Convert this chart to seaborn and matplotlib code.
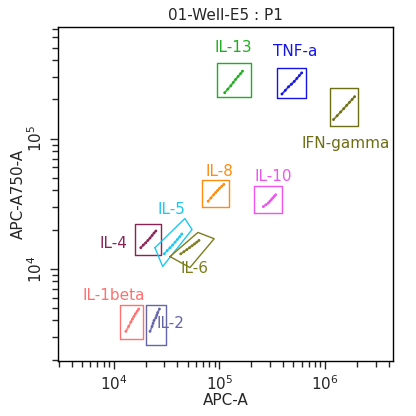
import matplotlib
matplotlib.use("Agg")
import matplotlib.pyplot as plt
import seaborn as sns
import pandas as pd

sns.set_style("white")
plt.rcParams["font.family"] = ["DejaVu Sans"]

# bead populations: name, colour
names = ["IL-13", "TNF-a", "IFN-gamma", "IL-8", "IL-10", "IL-4", "IL-5", "IL-6", "IL-1beta", "IL-2"]
colors = ["#1fae1f", "#1414e6", "#6e6e14", "#ff8c10", "#ee55ee", "#8b2255", "#1ec8f0", "#7d7d1e", "#ff7070", "#6464aa"]

# event values (APC-A, APC-A750-A) per population
pts_x = {
    "IL-13": [1.12e5, 1.2e5, 1.28e5, 1.35e5, 1.42e5, 1.5e5, 1.58e5, 1.65e5],
    "TNF-a": [3.9e5, 4.2e5, 4.5e5, 4.8e5, 5.1e5, 5.4e5, 5.7e5, 6.0e5],
    "IFN-gamma": [1.2e6, 1.3e6, 1.4e6, 1.5e6, 1.6e6, 1.7e6, 1.8e6, 1.9e6],
    "IL-8": [7.8e4, 8.3e4, 8.8e4, 9.2e4, 9.6e4, 1.0e5, 1.05e5, 1.1e5],
    "IL-10": [2.6e5, 2.75e5, 2.9e5, 3.0e5, 3.1e5, 3.2e5, 3.3e5, 3.4e5],
    "IL-4": [1.8e4, 1.9e4, 2.0e4, 2.1e4, 2.2e4, 2.3e4, 2.4e4, 2.5e4],
    "IL-5": [3.0e4, 3.2e4, 3.4e4, 3.6e4, 3.8e4, 4.0e4, 4.2e4, 4.4e4],
    "IL-6": [4.3e4, 4.6e4, 4.9e4, 5.2e4, 5.5e4, 5.8e4, 6.1e4, 6.4e4],
    "IL-1beta": [1.3e4, 1.38e4, 1.45e4, 1.5e4, 1.55e4, 1.6e4, 1.66e4, 1.72e4],
    "IL-2": [2.2e4, 2.3e4, 2.35e4, 2.4e4, 2.5e4, 2.55e4, 2.6e4, 2.7e4],
}
pts_y = {
    "IL-13": [2.25e5, 2.4e5, 2.55e5, 2.7e5, 2.85e5, 3.0e5, 3.15e5, 3.3e5],
    "TNF-a": [2.2e5, 2.35e5, 2.5e5, 2.62e5, 2.75e5, 2.9e5, 3.05e5, 3.2e5],
    "IFN-gamma": [1.4e5, 1.5e5, 1.6e5, 1.7e5, 1.8e5, 1.9e5, 2.0e5, 2.1e5],
    "IL-8": [3.3e4, 3.5e4, 3.7e4, 3.85e4, 4.0e4, 4.15e4, 4.3e4, 4.45e4],
    "IL-10": [3.0e4, 3.1e4, 3.2e4, 3.3e4, 3.4e4, 3.5e4, 3.6e4, 3.7e4],
    "IL-4": [1.45e4, 1.52e4, 1.58e4, 1.65e4, 1.72e4, 1.8e4, 1.88e4, 1.95e4],
    "IL-5": [1.3e4, 1.38e4, 1.45e4, 1.52e4, 1.6e4, 1.68e4, 1.76e4, 1.85e4],
    "IL-6": [1.3e4, 1.35e4, 1.4e4, 1.45e4, 1.5e4, 1.55e4, 1.6e4, 1.65e4],
    "IL-1beta": [3.3e3, 3.6e3, 3.9e3, 4.1e3, 4.3e3, 4.5e3, 4.7e3, 4.9e3],
    "IL-2": [3.3e3, 3.6e3, 3.8e3, 4.0e3, 4.2e3, 4.4e3, 4.6e3, 4.9e3],
}

# gate outlines (x corners, y corners)
gate_x = {
    "IL-13": [9.5e4, 2.0e5, 2.0e5, 9.5e4],
    "TNF-a": [3.5e5, 6.6e5, 6.6e5, 3.5e5],
    "IFN-gamma": [1.1e6, 2.05e6, 2.05e6, 1.1e6],
    "IL-8": [6.9e4, 1.23e5, 1.23e5, 6.9e4],
    "IL-10": [2.1e5, 3.9e5, 3.9e5, 2.1e5],
    "IL-4": [1.6e4, 2.8e4, 2.8e4, 1.6e4],
    "IL-5": [2.45e4, 4.7e4, 5.5e4, 2.9e4],
    "IL-6": [3.4e4, 6.25e4, 8.9e4, 5.25e4],
    "IL-1beta": [1.14e4, 1.9e4, 1.9e4, 1.14e4],
    "IL-2": [2.0e4, 3.1e4, 3.1e4, 2.0e4],
}
gate_y = {
    "IL-13": [2.1e5, 2.1e5, 3.8e5, 3.8e5],
    "TNF-a": [2.04e5, 2.04e5, 3.5e5, 3.5e5],
    "IFN-gamma": [1.26e5, 1.26e5, 2.45e5, 2.45e5],
    "IL-8": [3.0e4, 3.0e4, 4.8e4, 4.8e4],
    "IL-10": [2.7e4, 2.7e4, 4.35e4, 4.35e4],
    "IL-4": [1.28e4, 1.28e4, 2.2e4, 2.2e4],
    "IL-5": [1.45e4, 2.43e4, 2.0e4, 1.04e4],
    "IL-6": [1.24e4, 1.9e4, 1.7e4, 1.02e4],
    "IL-1beta": [2.9e3, 2.9e3, 5.3e3, 5.3e3],
    "IL-2": [2.6e3, 2.6e3, 5.3e3, 5.3e3],
}

# label anchors (data coords)
label_pos = {
    "IL-13": (1.35e5, 5.0e5), "TNF-a": (5.2e5, 4.7e5), "IFN-gamma": (1.55e6, 9.2e4),
    "IL-8": (1.0e5, 5.6e4), "IL-10": (3.2e5, 5.1e4), "IL-5": (3.5e4, 2.85e4),
    "IL-4": (1.0e4, 1.55e4), "IL-6": (5.8e4, 1.0e4), "IL-1beta": (1.0e4, 6.2e3),
    "IL-2": (3.4e4, 3.8e3),
}

rows = []
for n in names:
    for x, y in zip(pts_x[n], pts_y[n]):
        rows.append({"APC-A": x, "APC-A750-A": y, "bead": n})
df = pd.DataFrame(rows)

fig = plt.figure(figsize=(4.16, 4.16), dpi=100)
ax = fig.add_axes([0.139, 0.132, 0.806, 0.803])
ax.set_xscale("log")
ax.set_yscale("log")

for n, c in zip(names, colors):
    ax.plot(pts_x[n], pts_y[n], color=c, lw=1.4, alpha=0.8)
    gx = gate_x[n] + gate_x[n][:1]
    gy = gate_y[n] + gate_y[n][:1]
    ax.plot(gx, gy, color=c, lw=1.0)
    lx, ly = label_pos[n]
    ax.text(lx, ly, n, color=c, fontsize=11, ha="center", va="center")

sns.scatterplot(data=df, x="APC-A", y="APC-A750-A", hue="bead", palette=dict(zip(names, colors)),
                s=4, linewidth=0, legend=False, ax=ax)

ax.set_xlim(2950, 4.4e6)
ax.set_ylim(1950, 7.2e5)
ax.set_title("01-Well-E5 : P1", fontsize=11, pad=5)
ax.set_xlabel("APC-A", fontsize=11, labelpad=0)
ax.set_ylabel("APC-A750-A", fontsize=11, labelpad=0)
ax.set_xticks([1e4, 1e5, 1e6])
ax.set_yticks([1e4, 1e5])
ax.tick_params(axis="both", which="major", direction="out", length=6, width=1, labelsize=11)
ax.tick_params(axis="both", which="minor", direction="out", length=4, width=1)
ax.tick_params(axis="both", which="both", bottom=True, left=True)
for lab in ax.get_yticklabels():
    lab.set_rotation(90)
    lab.set_va("center")
for s in ax.spines.values():
    s.set_color("black")
    s.set_linewidth(1)

fig.savefig("out.png", dpi=100)
